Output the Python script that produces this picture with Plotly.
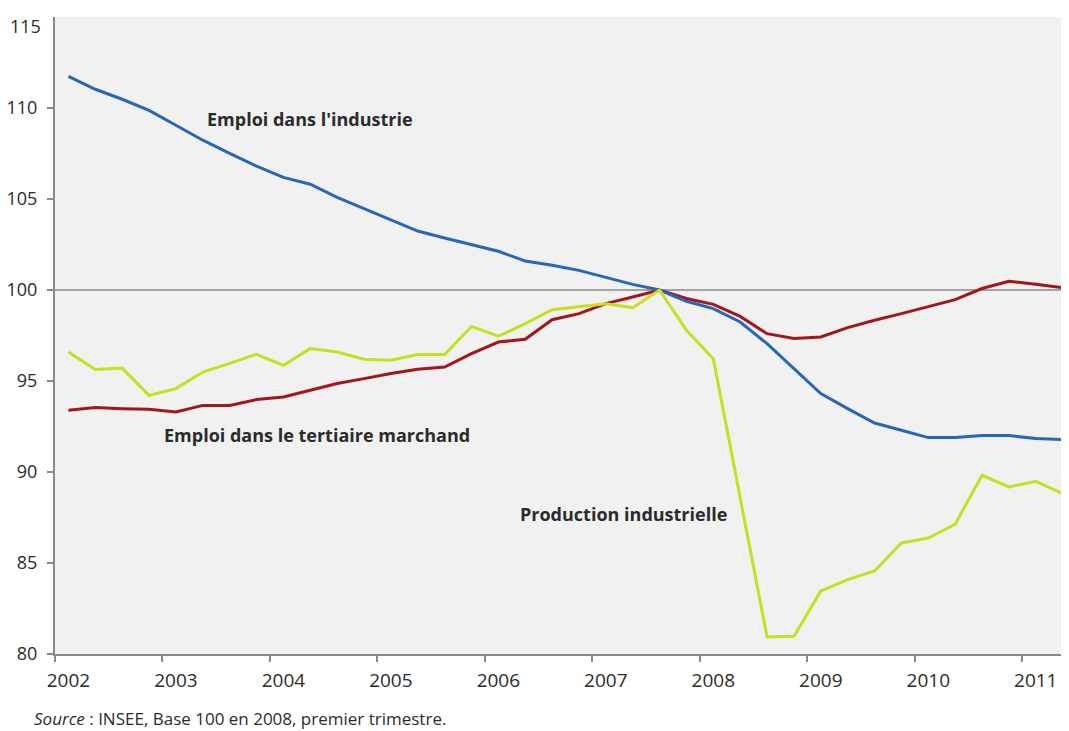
import plotly.graph_objects as go

# Quarterly index positions (2002 Q1 .. 2011 Q2)
quarters = list(range(38))

emploi_industrie = [111.74, 111.03, 110.48, 109.87, 109.05, 108.23, 107.51, 106.80, 106.19, 105.81,
                    105.09, 104.47, 103.83, 103.24, 102.86, 102.51, 102.13, 101.59, 101.36, 101.08,
                    100.68, 100.31, 100.00, 99.38, 98.98, 98.24, 97.05, 95.68, 94.31, 93.48,
                    92.69, 92.29, 91.89, 91.89, 92.00, 92.00, 91.84, 91.78]

emploi_tertiaire = [93.39, 93.54, 93.48, 93.45, 93.30, 93.66, 93.66, 93.98, 94.12, 94.49,
                    94.86, 95.13, 95.41, 95.64, 95.77, 96.50, 97.14, 97.29, 98.37, 98.70,
                    99.25, 99.62, 100.00, 99.53, 99.21, 98.55, 97.60, 97.33, 97.42, 97.93,
                    98.34, 98.70, 99.10, 99.47, 100.08, 100.48, 100.31, 100.13]

production_industrielle = [96.59, 95.63, 95.71, 94.21, 94.58, 95.49, 95.97, 96.47, 95.86, 96.78,
                           96.59, 96.20, 96.14, 96.45, 96.45, 98.00, 97.46, 98.15, 98.92, 99.10,
                           99.25, 99.03, 100.00, 97.79, 96.23, 88.58, 80.93, 80.97, 83.46, 84.09,
                           84.56, 86.10, 86.37, 87.13, 89.82, 89.18, 89.49, 88.81]

year_labels = ["2002", "2003", "2004", "2005", "2006", "2007", "2008", "2009", "2010", "2011"]
year_label_pos = [4 * k for k in range(len(year_labels))]
year_tick_pos = [4 * k - 0.5 for k in range(len(year_labels))]

y_ticks = [80, 85, 90, 95, 100, 105, 110]
y_top = 115

FONT = "Open Sans"
TXT = "#2b2b2b"
AXIS = "#8a8a8a"

fig = go.Figure()

fig.add_trace(go.Scatter(x=quarters, y=emploi_tertiaire, mode="lines",
                         line=dict(color="#a3161c", width=3), hoverinfo="skip"))
fig.add_trace(go.Scatter(x=quarters, y=emploi_industrie, mode="lines",
                         line=dict(color="#2866b8", width=3), hoverinfo="skip"))
fig.add_trace(go.Scatter(x=quarters, y=production_industrielle, mode="lines",
                         line=dict(color="#c6df1e", width=3), hoverinfo="skip"))
# invisible trace to activate the tick-mark axis
fig.add_trace(go.Scatter(x=[quarters[0]], y=[emploi_industrie[0]], xaxis="x2",
                         mode="markers", marker=dict(opacity=0), hoverinfo="skip"))

xr = [-0.5, 37.2]
fig.update_layout(
    width=1061, height=723,
    margin=dict(l=47, r=1, t=9, b=77, autoexpand=False),
    paper_bgcolor="white",
    plot_bgcolor="#f1f1f1",
    showlegend=False,
    font=dict(family=FONT, color=TXT),
    xaxis=dict(range=xr, tickvals=year_label_pos, ticktext=year_labels,
               ticks="", showgrid=False, zeroline=False, automargin=False,
               showline=True, linecolor=AXIS, linewidth=2,
               tickfont=dict(size=19, color=TXT), ticklabelstandoff=8),
    xaxis2=dict(range=xr, overlaying="x", side="bottom", tickvals=year_tick_pos,
                showticklabels=False, ticks="outside", ticklen=7, tickwidth=1.5,
                tickcolor=AXIS, showgrid=False, zeroline=False, showline=False,
                automargin=False),
    yaxis=dict(range=[80, y_top], tickvals=y_ticks, ticks="outside", ticklen=6,
               tickwidth=1.5, tickcolor=AXIS, showgrid=False, zeroline=False,
               showline=True, linecolor=AXIS, linewidth=2, automargin=False,
               ticklabeloverflow="allow",
               tickfont=dict(size=18, color=TXT), ticklabelstandoff=6),
)

fig.add_hline(y=100, line=dict(color="#8a8a8a", width=1.5), layer="below")

# top y label (sits slightly below the axis end, as in the original)
fig.add_annotation(xref="paper", yref="y", x=0, y=y_top, text=str(y_top),
                   xanchor="right", yanchor="top", xshift=-12, yshift=5,
                   showarrow=False, font=dict(family=FONT, size=18, color=TXT))

ann_font = dict(family=FONT, size=18, color=TXT)
fig.add_annotation(x=5.09, y=109.38, text="<b>Emploi dans l'industrie</b>",
                   xanchor="left", yanchor="middle", showarrow=False, font=ann_font)
fig.add_annotation(x=3.49, y=92.02, text="<b>Emploi dans le tertiaire marchand</b>",
                   xanchor="left", yanchor="middle", showarrow=False, font=ann_font)
fig.add_annotation(x=16.72, y=87.68, text="<b>Production industrielle</b>",
                   xanchor="left", yanchor="middle", showarrow=False, font=ann_font)

fig.add_annotation(xref="paper", yref="paper", x=-0.0227, y=-0.101,
                   text="<i>Source</i> : INSEE, Base 100 en 2008, premier trimestre.",
                   xanchor="left", yanchor="middle", showarrow=False,
                   font=dict(family=FONT, size=17, color=TXT))

fig.write_html("out.html")
